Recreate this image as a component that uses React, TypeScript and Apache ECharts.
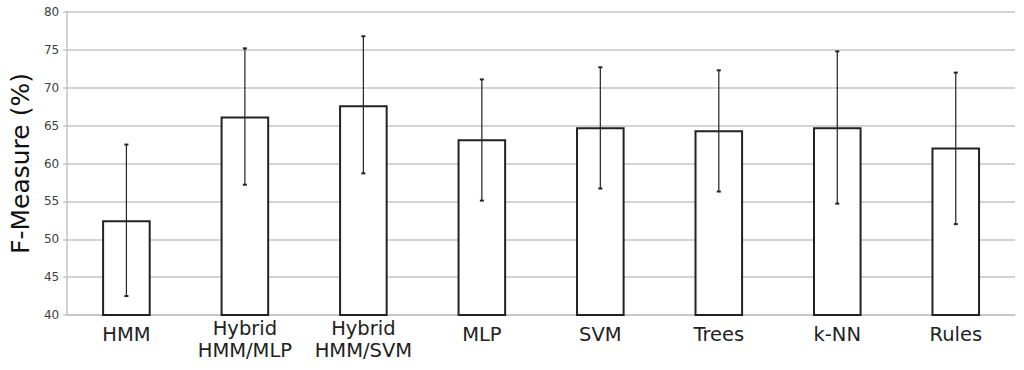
import React, { useEffect, useRef } from "react";
import * as echarts from "echarts";

const categories = ["HMM", "Hybrid\nHMM/MLP", "Hybrid\nHMM/SVM", "MLP", "SVM", "Trees", "k-NN", "Rules"];
const means = [52.5, 66.2, 67.7, 63.2, 64.8, 64.4, 64.8, 62.1];
const lower = [42.5, 57.2, 58.7, 55.1, 56.7, 56.3, 54.7, 52.0];
const upper = [62.5, 75.2, 76.8, 71.1, 72.7, 72.3, 74.8, 72.0];
const yTicks = [40, 45, 50, 55, 60, 65, 70, 75, 80];

export default function App() {
  const ref = useRef<HTMLDivElement>(null);
  useEffect(() => {
    if (!ref.current) return;
    const chart = echarts.init(ref.current, null, { renderer: "svg" });
    const errData = categories.map((_, i) => [i, lower[i], upper[i]]);
    const labelFont = { color: "#222", fontSize: 19.5, fontFamily: "DejaVu Sans", lineHeight: 22 };
    chart.setOption({
      animation: false,
      backgroundColor: "#ffffff",
      grid: { left: 64, right: 9, top: 12, bottom: 55 },
      xAxis: {
        type: "category",
        data: categories,
        axisLine: { show: true, lineStyle: { color: "#c4c4c4", width: 1.5 } },
        axisTick: { show: false },
        axisLabel: {
          ...labelFont,
          margin: 2,
          interval: 0,
          formatter: (v: string) => (v.indexOf("\n") >= 0 ? v : "{g| }\n{s|" + v + "}"),
          rich: {
            s: { ...labelFont },
            g: { fontSize: 1, lineHeight: 6 },
          },
        },
      },
      yAxis: {
        type: "value",
        min: yTicks[0],
        max: yTicks[yTicks.length - 1],
        interval: 5,
        name: "F-Measure (%)",
        nameLocation: "middle",
        nameGap: 33,
        nameTextStyle: { color: "#111", fontSize: 25, fontFamily: "DejaVu Sans" },
        axisLine: { show: true, lineStyle: { color: "#c4c4c4", width: 1.5 } },
        axisTick: { show: true, length: 4, lineStyle: { color: "#c4c4c4", width: 1.5 } },
        axisLabel: { color: "#404040", fontSize: 12, fontFamily: "DejaVu Sans", margin: 8 },
        splitLine: { show: true, lineStyle: { color: "#c4c4c4", width: 1.5 } },
      },
      series: [
        {
          type: "bar",
          data: means,
          barWidth: "41%",
          itemStyle: { color: "#ffffff", borderColor: "#222", borderWidth: 2 },
        },
        {
          type: "custom",
          data: errData,
          z: 10,
          renderItem: (params: any, api: any) => {
            const x = api.value(0);
            const lo = api.coord([x, api.value(1)]);
            const hi = api.coord([x, api.value(2)]);
            const style = { stroke: "#222", lineWidth: 1.2 };
            const cap = 2;
            return {
              type: "group",
              children: [
                { type: "line", shape: { x1: lo[0], y1: lo[1], x2: hi[0], y2: hi[1] }, style },
                { type: "line", shape: { x1: lo[0] - cap, y1: lo[1], x2: lo[0] + cap, y2: lo[1] }, style: { stroke: "#222", lineWidth: 2 } },
                { type: "line", shape: { x1: hi[0] - cap, y1: hi[1], x2: hi[0] + cap, y2: hi[1] }, style: { stroke: "#222", lineWidth: 2 } },
              ],
            };
          },
        },
      ],
    });
    return () => chart.dispose();
  }, []);
  return (
    <div
      ref={ref}
      style={{ position: "fixed", left: 0, top: 0, width: 1024, height: 370, background: "#fff" }}
    />
  );
}
